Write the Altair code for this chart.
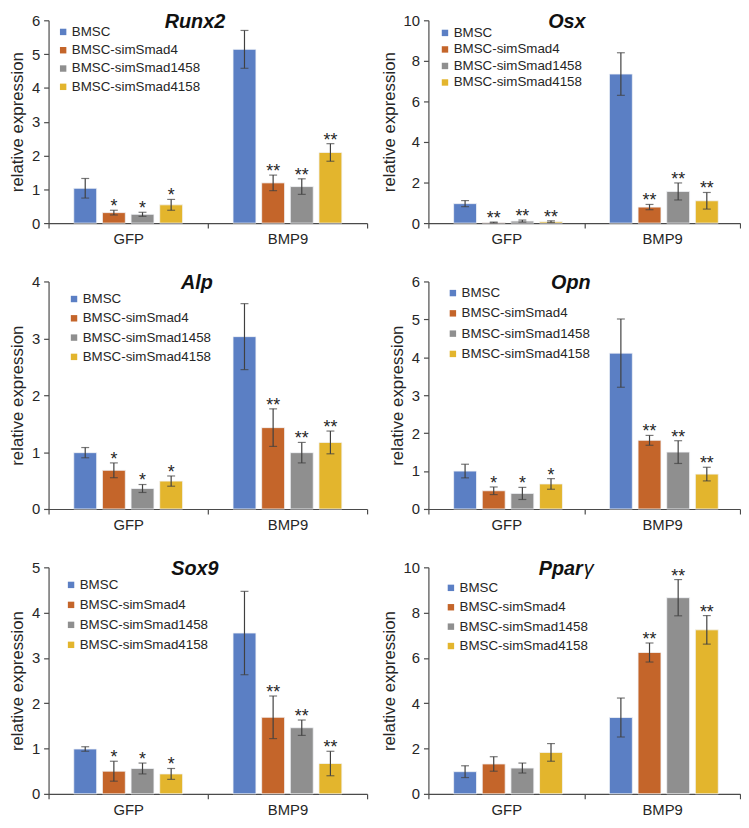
import altair as alt
import pandas as pd

groups = ["GFP", "BMP9"]
series = ["BMSC", "BMSC-simSmad4", "BMSC-simSmad1458", "BMSC-simSmad4158"]
colors = ["#5B7FC4", "#C4652A", "#8F8F8F", "#E3B52D"]

# values: GFP x4 then BMP9 x4 (series order)
runx2_mean = [1.03, 0.31, 0.26, 0.54, 5.14, 1.19, 1.08, 2.09]
runx2_err = [0.29, 0.07, 0.06, 0.16, 0.56, 0.23, 0.23, 0.26]
runx2_sig = ["", "*", "*", "*", "", "**", "**", "**"]

osx_mean = [0.96, 0.03, 0.10, 0.07, 7.35, 0.79, 1.56, 1.10]
osx_err = [0.15, 0.02, 0.05, 0.04, 1.05, 0.13, 0.42, 0.41]
osx_sig = ["", "**", "**", "**", "", "**", "**", "**"]

alp_mean = [0.99, 0.68, 0.36, 0.49, 3.03, 1.43, 0.99, 1.17]
alp_err = [0.09, 0.13, 0.07, 0.09, 0.58, 0.33, 0.18, 0.20]
alp_sig = ["", "*", "*", "*", "", "**", "**", "**"]

opn_mean = [1.00, 0.48, 0.41, 0.66, 4.11, 1.81, 1.50, 0.92]
opn_err = [0.18, 0.10, 0.16, 0.14, 0.90, 0.13, 0.30, 0.18]
opn_sig = ["", "*", "*", "*", "", "**", "**", "**"]

sox9_mean = [0.99, 0.50, 0.56, 0.44, 3.55, 1.69, 1.46, 0.67]
sox9_err = [0.05, 0.22, 0.12, 0.12, 0.92, 0.47, 0.17, 0.27]
sox9_sig = ["", "*", "*", "*", "", "**", "**", "**"]

pparg_mean = [0.98, 1.32, 1.14, 1.83, 3.37, 6.24, 8.66, 7.24]
pparg_err = [0.26, 0.32, 0.22, 0.39, 0.86, 0.42, 0.80, 0.63]
pparg_sig = ["", "", "", "", "", "**", "**", "**"]

FONT = "Liberation Sans"
AX = "#4a4a4a"
TXT = "#262626"


def panel(title_parts, means, errs, sigs, ymax, ystep, width, height,
          leg_x, leg_y, row_pad, title_x):
    rows = []
    for gi, g in enumerate(groups):
        for si, s in enumerate(series):
            k = gi * 4 + si
            rows.append(dict(group=g, series=s, mean=means[k],
                             lo=means[k] - errs[k], hi=means[k] + errs[k],
                             sig=sigs[k]))
    df = pd.DataFrame(rows)

    xaxis = alt.Axis(title=None, labelAngle=0, tickBand="extent",
                     labelFontSize=15, labelPadding=4, tickSize=5,
                     domainColor=AX, tickColor=AX, labelColor=TXT,
                     labelFont=FONT, domainWidth=1.2, tickWidth=1.2)
    xscale = alt.Scale(paddingInner=0, paddingOuter=0)
    xo = alt.XOffset("series:N", sort=series,
                     scale=alt.Scale(paddingInner=0.2, paddingOuter=0.88))
    yscale = alt.Scale(domain=[0, ymax], nice=False, zero=True)
    yaxis = alt.Axis(title="relative expression",
                     values=list(range(0, ymax + 1, ystep)), format="d",
                     labelOverlap=False, grid=False,
                     labelFontSize=15, labelPadding=4, tickSize=5,
                     titleFontSize=17, titleFontWeight="normal",
                     titlePadding=5, titleColor=TXT, labelColor=TXT,
                     domainColor=AX, tickColor=AX, labelFont=FONT,
                     titleFont=FONT, domainWidth=1.2, tickWidth=1.2)

    def X():
        return alt.X("group:N", sort=groups, scale=xscale, axis=xaxis)

    def Y(field):
        return alt.Y(field, scale=yscale, axis=yaxis)

    base = alt.Chart(df)
    bars = base.mark_bar(stroke="#f2f4f8", strokeWidth=0.8).encode(
        x=X(), xOffset=xo, y=Y("mean:Q"),
        color=alt.Color("series:N", sort=series,
                        scale=alt.Scale(domain=series, range=colors),
                        legend=alt.Legend(orient="none", legendX=leg_x,
                                          legendY=leg_y, title=None,
                                          symbolType="square", symbolSize=42,
                                          symbolStrokeWidth=0,
                                          labelFontSize=13.5, labelFont=FONT,
                                          labelColor=TXT, rowPadding=row_pad,
                                          labelOffset=2, padding=0,
                                          labelLimit=0)),
    )
    rule = base.mark_rule(color="#404040", strokeWidth=1.2).encode(
        x=X(), xOffset=xo, y=Y("lo:Q"), y2="hi:Q")
    cap_hi = base.mark_tick(color="#404040", size=8, thickness=1.2).encode(
        x=X(), xOffset=xo, y=Y("hi:Q"))
    cap_lo = base.mark_tick(color="#404040", size=8, thickness=1.2).encode(
        x=X(), xOffset=xo, y=Y("lo:Q"))
    stars = base.mark_text(font=FONT, fontSize=18, color=TXT,
                           baseline="alphabetic", dy=2).encode(
        x=X(), xOffset=xo, y=Y("hi:Q"), text="sig:N")

    layers = [bars, rule, cap_hi, cap_lo, stars]
    if len(title_parts) == 1:
        t = alt.Chart(pd.DataFrame({"t": [title_parts[0]]})).mark_text(
            font=FONT, fontSize=20, fontWeight="bold", fontStyle="italic",
            baseline="middle", align="center", color="#111").encode(
            x=alt.value(title_x), y=alt.value(2), text="t:N")
        layers.append(t)
    else:
        t1 = alt.Chart(pd.DataFrame({"t": [title_parts[0]]})).mark_text(
            font=FONT, fontSize=20, fontWeight="bold", fontStyle="italic",
            baseline="middle", align="right", color="#111").encode(
            x=alt.value(title_x), y=alt.value(2), text="t:N")
        t2 = alt.Chart(pd.DataFrame({"t": [title_parts[1]]})).mark_text(
            font=FONT, fontSize=20, fontStyle="italic",
            baseline="middle", align="left", color="#111").encode(
            x=alt.value(title_x + 1), y=alt.value(2), text="t:N")
        layers += [t1, t2]
    return alt.layer(*layers).properties(width=width, height=height)


H1, H2, H3 = 205, 230, 229
LW, RW = 322, 315

p1 = panel(["Runx2"], runx2_mean, runx2_err, runx2_sig, 6, 1, LW, H1,
           8, 5, 3.5, 148)
p2 = panel(["Osx"], osx_mean, osx_err, osx_sig, 10, 2, RW, H1,
           10, 6, 1.7, 140)
p3 = panel(["Alp"], alp_mean, alp_err, alp_sig, 4, 1, LW, H2,
           19, 11, 4.5, 150)
p4 = panel(["Opn"], opn_mean, opn_err, opn_sig, 6, 1, RW, H2,
           18, 5, 5.5, 144)
p5 = panel(["Sox9"], sox9_mean, sox9_err, sox9_sig, 5, 1, LW, H3,
           16, 11, 5.2, 148)
p6 = panel(["Ppar", "γ"], pparg_mean, pparg_err, pparg_sig, 10, 2, RW, H3,
           16, 14, 4.6, 156)

chart = alt.concat(p1, p2, p3, p4, p5, p6, columns=2, bounds="flush",
                   spacing={"row": 59, "column": 62}).resolve_scale(
    color="independent", x="independent", y="independent").properties(
    padding=0).configure(font=FONT).configure_view(stroke=None)

chart.save("out.html", embed_options={"renderer": "svg", "actions": False})
